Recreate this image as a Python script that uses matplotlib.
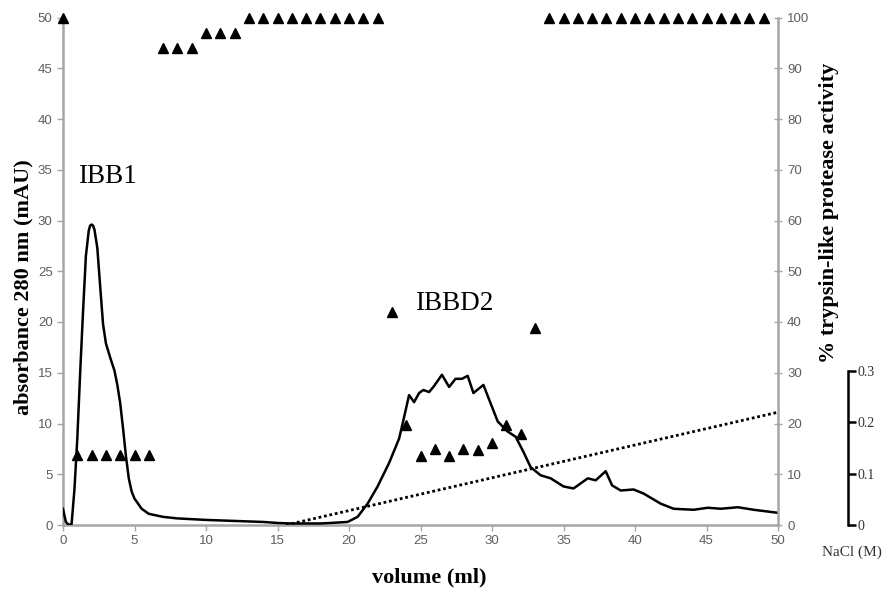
import matplotlib
matplotlib.use("Agg")
import matplotlib.pyplot as plt
import numpy as np

# --- data ---
vol = [0, 0.2, 0.4, 0.6, 0.8, 1.0, 1.2, 1.4, 1.6, 1.8, 1.9, 2.0, 2.1, 2.2, 2.4, 2.6, 2.8, 3.0,
       3.3, 3.6, 3.8, 4.0, 4.2, 4.4, 4.6, 4.8, 5.0, 5.5, 6.0, 7.0, 8.0, 10.0, 12.0,
       14.0, 15.0, 16.0, 18.0, 18.7, 19.9, 20.6, 21.3, 22.0, 22.8, 23.5, 23.8, 24.2,
       24.55, 24.9, 25.2, 25.6, 25.9, 26.5, 27.0, 27.45, 27.9, 28.3, 28.7, 29.4, 29.9,
       30.4, 31.1, 31.65, 32.2, 32.7, 33.4, 34.1, 35.0, 35.7, 36.7, 37.25, 37.95,
       38.4, 39.0, 39.9, 40.6, 41.8, 42.7, 44.1, 45.1, 46.0, 47.2, 48.3, 50.0]
absorb = [1.6, 0.3, 0.0, 0.1, 3.5, 8.5, 15.0, 21.0, 26.5, 29.0, 29.5, 29.6, 29.5, 29.1, 27.3, 23.5,
          19.8, 17.9, 16.5, 15.2, 13.8, 12.0, 9.5, 6.8, 4.6, 3.3, 2.6, 1.6, 1.1, 0.8,
          0.65, 0.5, 0.4, 0.3, 0.2, 0.15, 0.15, 0.2, 0.3, 0.8, 2.1, 3.8, 6.1, 8.5, 10.3,
          12.8, 12.1, 13.0, 13.3, 13.1, 13.6, 14.8, 13.6, 14.4, 14.4, 14.7, 13.0, 13.8,
          12.0, 10.2, 9.2, 8.7, 7.2, 5.7, 4.9, 4.6, 3.8, 3.6, 4.6, 4.4, 5.3, 3.9, 3.4,
          3.5, 3.1, 2.1, 1.6, 1.5, 1.7, 1.6, 1.75, 1.5, 1.2]

act_vol = [0, 1, 2, 3, 4, 5, 6, 7, 8, 9, 10, 11, 12,
           13, 14, 15, 16, 17, 18, 19, 20, 21, 22,
           23, 24, 25, 26, 27, 28, 29, 30, 31, 32, 33,
           34, 35, 36, 37, 38, 39, 40, 41, 42, 43, 44, 45, 46, 47, 48, 49]
activity = [100, 13.7, 13.7, 13.7, 13.7, 13.7, 13.7, 94, 94, 94, 97, 97, 97,
            100, 100, 100, 100, 100, 100, 100, 100, 100, 100,
            42, 19.7, 13.6, 15, 13.6, 15, 14.8, 16.2, 19.7, 18, 38.8,
            100, 100, 100, 100, 100, 100, 100, 100, 100, 100, 100, 100, 100, 100, 100, 100]

nacl_vol = [15.6, 50]
nacl = [0.0, 0.22]

W, H = 885, 590
fig = plt.figure(figsize=(W / 100, H / 100), dpi=100)
ax_l, ax_b, ax_w, ax_h = 63 / W, 1 - 525 / H, (778 - 63) / W, (525 - 17.5) / H
ax = fig.add_axes([ax_l, ax_b, ax_w, ax_h])

gray = "#a6a6a6"
tcol = "#5e5e5e"

ax.plot(vol, absorb, color="black", lw=1.8, zorder=3, solid_joinstyle="round")
ax.set_xlim(0, 50)
ax.set_ylim(0, 50)
ax.set_xticks(np.arange(0, 51, 5))
ax.set_yticks(np.arange(0, 51, 5))
for s in ["top", "right"]:
    ax.spines[s].set_visible(False)
for s in ["left", "bottom"]:
    ax.spines[s].set_color(gray)
    ax.spines[s].set_linewidth(1.8)
ax.tick_params(axis="both", colors=gray, labelcolor=tcol, labelsize=9.5, length=4, width=1)
for lab in ax.get_xticklabels() + ax.get_yticklabels():
    lab.set_family("Liberation Sans")

ax.set_xlabel("volume (ml)", family="Liberation Serif", fontweight="bold", fontsize=16)
ax.xaxis.set_label_coords((429 - 63) / 715, -(577 - 525) / 507.5)
ax.xaxis.label.set_va("center")
ax.set_ylabel("absorbance 280 nm (mAU)", family="Liberation Serif", fontweight="bold", fontsize=16)
ax.yaxis.set_label_coords(-(63 - 23.5) / 715, (525 - 287) / 507.5)
ax.yaxis.label.set_va("center")

# activity axis
ax2 = ax.twinx()
ax2.set_ylim(0, 100)
ax2.set_yticks(np.arange(0, 101, 10))
for s in ["top", "left", "bottom"]:
    ax2.spines[s].set_visible(False)
ax2.spines["right"].set_color(gray)
ax2.spines["right"].set_linewidth(1.8)
ax2.tick_params(axis="y", colors=gray, labelcolor=tcol, labelsize=9.5, length=6, width=1, direction="inout")
for lab in ax2.get_yticklabels():
    lab.set_family("Liberation Sans")
ax2.plot(act_vol, activity, linestyle="none", marker="^", color="black", markersize=7, clip_on=False, zorder=4)
ax2.set_ylabel("% trypsin-like protease activity", family="Liberation Serif", fontweight="bold", fontsize=16)
ax2.yaxis.set_label_coords((829 - 63) / 715, (525 - 213) / 507.5)
ax2.yaxis.label.set_va("center")

# NaCl axis
ax3 = ax.twinx()
ax3.set_ylim(0, 0.99)
for s in ["top", "left", "bottom"]:
    ax3.spines[s].set_visible(False)
ax3.spines["right"].set_position(("outward", 50.4))
ax3.spines["right"].set_bounds(0, 0.3)
ax3.spines["right"].set_linewidth(1.8)
ax3.set_yticks([0, 0.1, 0.2, 0.3])
ax3.set_yticklabels(["0", "0.1", "0.2", "0.3"])
ax3.tick_params(axis="y", colors="black", labelcolor="#333333", labelsize=10, length=6, width=1.8, pad=0.5)
for lab in ax3.get_yticklabels():
    lab.set_family("Liberation Serif")
ax3.plot(nacl_vol, nacl, color="black", lw=2, linestyle=(0, (1, 1)), zorder=2)
fig.text(852 / W, 1 - 552 / H, "NaCl (M)", family="Liberation Serif", fontsize=11, color="#333333",
         ha="center", va="center")

ax.text(1.05, 33.7, "IBB1", family="Liberation Serif", fontsize=19.5, ha="left", va="baseline")
ax.text(24.65, 21.2, "IBBD2", family="Liberation Serif", fontsize=19.5, ha="left", va="baseline")

fig.savefig("out.png", dpi=100)
